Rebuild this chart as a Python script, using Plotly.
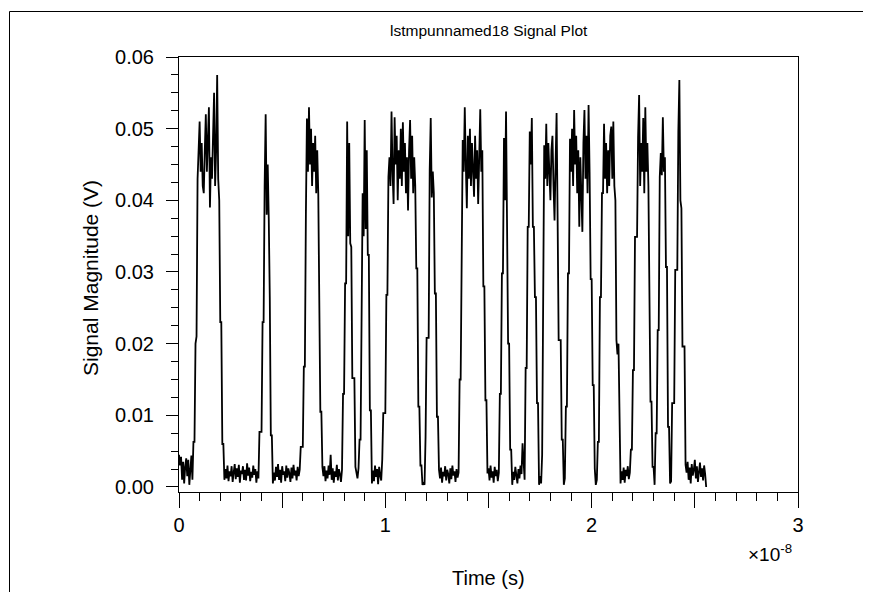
import numpy as np
import plotly.graph_objects as go

# ---- data ----
sample_period_s = 0.005e-8   # time between samples
signal_mv = [
    # initial low
    4.5, 3.0, 4.2, 1.0, 3.5, 0.5, 2.8, 4.0, 1.5, 3.8, 0.3, 2.5, 4.4,
    1.0, 6.3, 6.3, 20, 21,
    43, 47, 51, 44, 48, 42, 41, 47, 52, 44, 48, 53, 39, 46, 43, 49, 55, 42, 47, 57.5,
    43, 40, 23, 23, 6, 6, 1.0,
    2.5, 1.2, 3.0, 0.8, 2.2, 1.5, 2.9, 0.7, 2.0, 3.2, 1.1, 2.6, 1.4, 3.1, 0.6, 2.3, 1.8,
    2.9, 1.0, 2.4, 0.9, 3.3, 1.6, 2.7, 0.8, 2.1, 1.3, 3.0, 1.7, 2.5, 0.6, 2.2, 1.2,
    7.7, 7.7, 7.7, 23, 23, 42, 52, 38, 45, 37.5, 26.4, 7.2, 7.2, 0.5,
    2.0, 0.9, 2.8, 1.4, 3.2, 1.0, 2.4, 0.6, 2.9, 1.7, 2.2, 0.8, 3.0, 1.3, 2.6, 1.9, 0.7,
    2.7, 1.2, 3.1, 1.6, 2.3, 0.9, 2.8, 1.5, 2.4,
    5.6, 5.6, 5.6, 16.8, 16.8,
    38.2, 51.4, 44, 53, 45, 50, 42, 48, 44, 49, 41, 47, 41,
    29.3, 10.5, 10.5, 2.8,
    1.5, 2.9, 0.8, 2.3, 1.2, 3.0, 1.7, 4.5, 1.0, 2.6, 0.6, 2.2, 1.4, 3.1, 0.9, 2.5, 1.8, 0.7, 2.4,
    13, 13, 28.4, 28.4, 51, 35, 48, 34, 33.5, 15.2, 15.2, 15.2, 2.8,
    2.0, 1.2, 2.6,
    6.6, 6.6, 22.4, 41, 35, 51.2, 36, 47, 32.4, 32.4, 10.7, 10.7, 0.5,
    2.3, 0.8, 3.0, 1.4, 2.5, 0.4, 2.8, 1.6, 0.9, 3.8, 10.3,
    10.3, 10.3, 26.8, 26.8, 43.3,
    46, 42, 52.4, 44, 39.5, 51.6, 45, 49, 40, 47, 43, 50, 42, 50.9, 44, 48, 41, 46, 38.6,
    47, 51.2, 43, 49, 41, 46, 42,
    30.5, 30.5, 11.2, 11.2, 3, 3, 0.3, 0.5, 0.3,
    7, 20.8, 20.8, 20.8, 44.2, 51.5, 40.4, 44, 41, 27, 27, 9.8, 9.8, 2.4,
    1.2, 2.7, 0.6, 2.1, 1.5, 2.9, 0.9, 2.4, 1.8, 0.5, 2.6, 1.1, 3.0, 1.6, 2.2, 0.7, 2.5, 1.3, 2.0,
    15, 15, 34, 48.4,
    44, 53, 45, 38.9, 49, 43, 50, 42, 48, 44, 40.5, 49, 43, 47, 39.5, 46, 52.7, 44, 47,
    28, 28, 12.1, 12.1, 1.9,
    2.6, 0.9, 3.0, 1.3, 2.2, 0.6, 2.8, 1.5, 2.4, 0.8, 2.0,
    13, 13, 29.8, 29.8, 48.7, 40, 52.4, 38.2, 20, 20, 5.2, 5.2, 0.3,
    2.1, 1.0, 2.8, 1.6, 0.5, 2.5, 1.2, 3.0, 1.8, 6.1, 2.2, 1.0,
    16.6, 16.6, 36.3, 36.3, 49.6, 45, 51.5, 36.3, 36.3, 26.5, 26.5, 11.7, 11.7, 0.3, 1.5, 0.5, 4.5, 22,
    47.7, 43, 50.7, 42, 48, 44, 40, 47, 49, 42, 37.2, 45, 52.2,
    37.4, 20.5, 20.5, 20.5, 6.6, 6.6, 0.3,
    1.2, 11.2, 11.2, 29.8, 29.8, 48.6,
    44, 50, 42, 52.6, 45, 49, 41, 47, 36.3, 46, 42, 35.6, 48, 52.6, 43, 49, 41, 53.3,
    44, 29, 29, 14.2, 14.2, 2.6, 0.3, 1.0, 6.3, 6.3, 26.5, 26.5, 41, 41,
    50.7, 43, 48, 41, 47, 42, 49, 50.3, 43, 51, 42,
    40, 20.5, 18.5, 20, 6.6, 0.5,
    2.2, 1.0, 2.7, 0.6, 2.4, 1.5, 2.9, 1.1, 2.0, 5.2,
    5.2, 16.3, 16.3, 34.9, 34.9, 34.9, 48.9, 54.7,
    42, 48, 44, 51.5, 41, 53, 44, 48, 42,
    30.3, 11.9, 11.9, 2.8, 2.8, 0.3,
    7.5, 7.5, 21.9, 21.9, 43.3, 46.6, 43.5, 51.6, 44, 46, 30.7, 30.7, 8.4, 8.4, 0.5,
    0.8, 11.7, 11.7, 11.7, 30.3, 30.3, 30.3, 49.6, 56.8, 40, 38.9, 19.6, 19.6, 19.6, 3.1,
    2.0, 3.5, 1.0, 2.7, 0.5, 3.2, 1.6, 2.4, 3.8, 1.2, 2.9, 0.7, 2.3, 3.4, 1.4, 2.6, 0.9, 3.0, 1.8,
    0.0,
]

x_tick_vals = [0, 1e-8, 2e-8, 3e-8]
x_tick_text = ["0", "1", "2", "3"]
x_half_tick_vals = [0.5e-8, 1.5e-8, 2.5e-8]
y_tick_vals = [0.0, 0.01, 0.02, 0.03, 0.04, 0.05, 0.06]
y_tick_text = ["0.00", "0.01", "0.02", "0.03", "0.04", "0.05", "0.06"]

title_text = "lstmpunnamed18 Signal Plot"
x_label = "Time (s)"
y_label = "Signal Magnitude (V)"
x_exponent = "×10<sup>-8</sup>"

# ---- figure ----
time_s = np.arange(len(signal_mv)) * sample_period_s
signal_v = np.array(signal_mv) / 1000.0

OFF = 8                      # page body margin of the html page
W, H = 871 - OFF, 592 - OFF
# plot area in screenshot pixels: x 179..798, y 57..492
PX0, PX1, PY0, PY1 = 179, 798, 57, 492
L, T = PX0 - OFF, PY0 - OFF
R, B = W - (PX1 - OFF), H - (PY1 - OFF)
pw, ph = PX1 - PX0, PY1 - PY0

def sx(px):
    """screenshot x pixel -> paper x"""
    return (px - PX0) / pw

def sy(py):
    """screenshot y pixel -> paper y"""
    return (PY1 - py) / ph

font_main = "Liberation Sans, Arial, sans-serif"
x_range = [0, 3e-8]

fig = go.Figure()
fig.add_trace(go.Scatter(x=time_s, y=signal_v, mode="lines",
                         line=dict(color="black", width=1.8),
                         showlegend=False, hoverinfo="skip"))

fig.update_layout(
    width=W, height=H,
    margin=dict(l=L, r=R, t=T, b=B, pad=0),
    paper_bgcolor="white", plot_bgcolor="white",
    font=dict(family=font_main, size=19, color="black"),
    showlegend=False,
    xaxis=dict(
        range=x_range, tickmode="array", tickvals=x_tick_vals, ticktext=x_tick_text,
        ticks="outside", ticklen=15, tickwidth=1, tickcolor="black",
        showline=True, linecolor="black", linewidth=1, mirror=True,
        showgrid=False, zeroline=False,
        minor=dict(tickmode="linear", tick0=0, dtick=0.1e-8, ticks="outside",
                   ticklen=8, tickwidth=1, tickcolor="black", showgrid=False),
        tickfont=dict(size=20),
    ),
    # longer unlabeled ticks at the half-units of the time axis
    xaxis2=dict(
        range=x_range, overlaying="x", side="bottom", anchor="y",
        tickmode="array", tickvals=x_half_tick_vals, showticklabels=False,
        ticks="outside", ticklen=15, tickwidth=1, tickcolor="black",
        showline=False, showgrid=False, zeroline=False,
    ),
    yaxis=dict(
        range=[-0.0007, 0.06], tickmode="array", tickvals=y_tick_vals, ticktext=y_tick_text,
        ticks="outside", ticklen=12, tickwidth=1, tickcolor="black",
        showline=True, linecolor="black", linewidth=1, mirror=True,
        showgrid=False, zeroline=False,
        minor=dict(tickmode="linear", tick0=0, dtick=0.0025, ticks="outside",
                   ticklen=7, tickwidth=1, tickcolor="black", showgrid=False),
        tickfont=dict(size=20), ticklabelstandoff=8,
    ),
)
# invisible anchor trace so the half-tick axis is drawn
fig.add_trace(go.Scatter(x=[], y=[], xaxis="x2", yaxis="y", showlegend=False,
                         hoverinfo="skip"))

annotations = [
    dict(text=title_text, x=sx(489), y=sy(30), xref="paper", yref="paper",
         showarrow=False, font=dict(size=15.5),
         xanchor="center", yanchor="middle"),
    dict(text=y_label, x=sx(90), y=sy(278), xref="paper", yref="paper",
         showarrow=False, textangle=-90, font=dict(size=21),
         xanchor="center", yanchor="middle"),
    dict(text=x_label, x=sx(488), y=sy(578), xref="paper", yref="paper",
         showarrow=False, font=dict(size=20),
         xanchor="center", yanchor="middle"),
    dict(text=x_exponent, x=sx(794), y=sy(553), xref="paper", yref="paper",
         showarrow=False, font=dict(size=19),
         xanchor="right", yanchor="middle"),
]
fig.update_layout(annotations=annotations)

# outer figure frame (top and left edges)
fig.add_shape(type="line", xref="paper", yref="paper",
              x0=sx(9.5), x1=sx(880), y0=sy(11.5), y1=sy(11.5),
              line=dict(color="black", width=1))
fig.add_shape(type="line", xref="paper", yref="paper",
              x0=sx(9.5), x1=sx(9.5), y0=sy(11.5), y1=sy(600),
              line=dict(color="black", width=1))

fig.write_html("out.html")
